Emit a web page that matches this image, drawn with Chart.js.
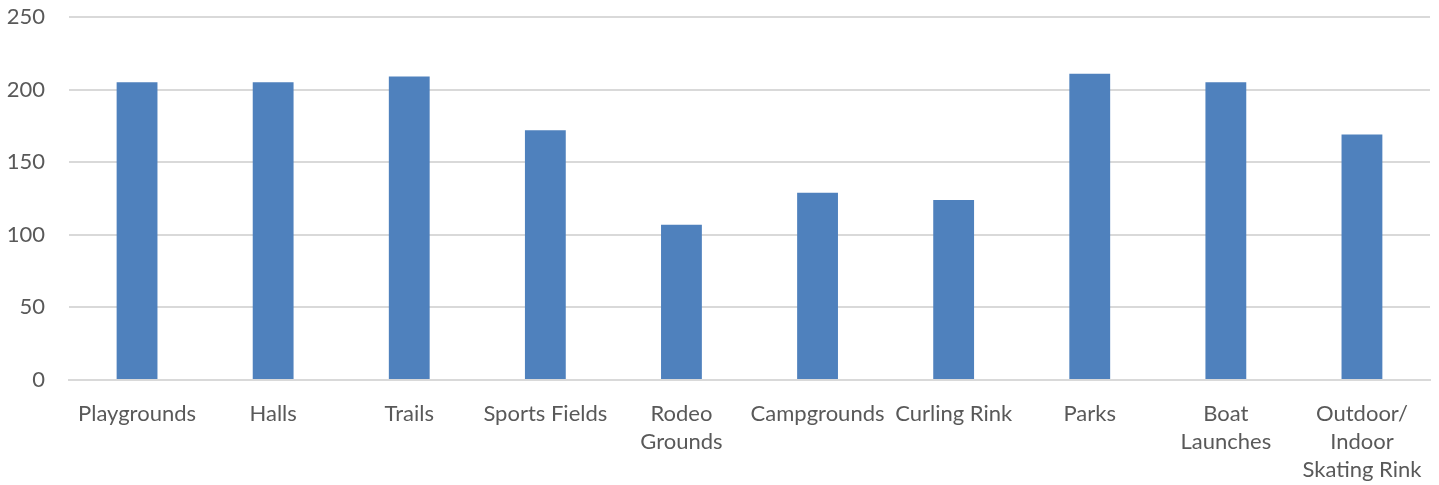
<!DOCTYPE html>
<html>
<head>
<meta charset="utf-8">
<script src="https://cdn.jsdelivr.net/npm/chart.js@4/dist/chart.umd.min.js"></script>
<style>
  html, body { margin: 0; padding: 0; background: #fff; }
  #wrap { width: 1439px; height: 485px; }
</style>
</head>
<body>
<div id="wrap"><canvas id="facilityChart"></canvas></div>
<script>
// Static data
const categories = [
    'Playgrounds', 'Halls', 'Trails', 'Sports Fields', ['Rodeo', 'Grounds'],
    'Campgrounds', 'Curling Rink', 'Parks', ['Boat', 'Launches'],
    ['Outdoor/', 'Indoor', 'Skating Rink']
];
const counts = [205, 205, 209, 172, 107, 129, 124, 211, 205, 169];
const yTicks = [0, 50, 100, 150, 200, 250];

document.addEventListener('DOMContentLoaded', function() {
    const ctx = document.getElementById('facilityChart').getContext('2d');
    new Chart(ctx, {
        type: 'bar',
        data: {
            labels: categories,
            datasets: [{
                label: 'Facilities',
                data: counts,
                backgroundColor: '#4f81bd',
                borderWidth: 0,
                categoryPercentage: 1,
                barPercentage: 0.3
            }]
        },
        options: {
            responsive: true,
            maintainAspectRatio: false,
            animation: false,
            layout: { padding: { top: 17, right: 9, bottom: 0, left: 0 } },
            plugins: {
                legend: { display: false },
                tooltip: { enabled: false }
            },
            scales: {
                x: {
                    grid: { display: false },
                    border: { color: '#d9d9d9', width: 2 },
                    afterFit: function(axis) { axis.height = 105; },
                    ticks: {
                        autoSkip: false,
                        maxRotation: 0,
                        color: '#595959',
                        padding: 12,
                        font: { family: 'Lato', size: 22, lineHeight: 1.27 }
                    }
                },
                y: {
                    min: 0,
                    max: 250,
                    afterBuildTicks: function(axis) {
                        axis.ticks = yTicks.map(v => ({ value: v }));
                    },
                    afterFit: function(axis) {
                        axis.width = 69;
                        axis.paddingTop = 0;
                    },
                    border: { display: false },
                    grid: { color: '#d9d9d9', lineWidth: 2, drawTicks: false },
                    ticks: {
                        color: '#595959',
                        padding: 24,
                        font: { family: 'Lato', size: 22 }
                    }
                }
            }
        }
    });
});
</script>
</body>
</html>
